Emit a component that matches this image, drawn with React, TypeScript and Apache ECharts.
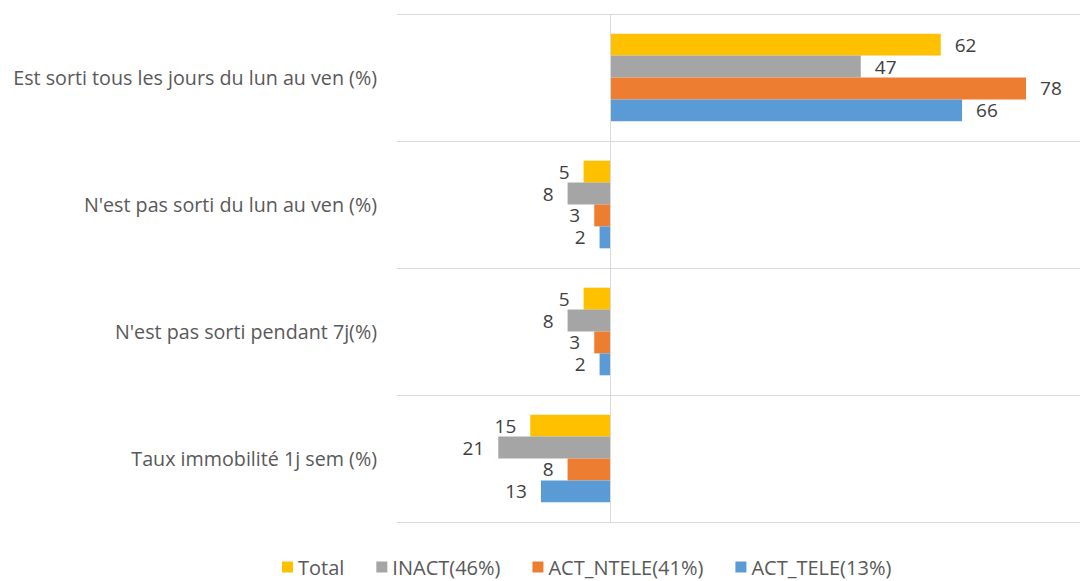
import React, { useEffect, useRef } from "react";
import * as echarts from "echarts";

const categories = [
  "Est sorti tous les jours du lun au ven (%)",
  "N'est pas sorti du lun au ven (%)",
  "N'est pas sorti pendant 7j(%)",
  "Taux immobilité 1j sem (%)",
];
const seriesNames = ["Total", "INACT(46%)", "ACT_NTELE(41%)", "ACT_TELE(13%)"];
const totalValues = [62, -5, -5, -15];
const inactValues = [47, -8, -8, -21];
const actNteleValues = [78, -3, -3, -8];
const actTeleValues = [66, -2, -2, -13];
const seriesColors = ["#FFC000", "#A5A5A5", "#ED7D31", "#5B9BD5"];
const xMin = -40;
const xMax = 90;

const FONT = "'Open Sans', sans-serif";

export default function App() {
  const ref = useRef<HTMLDivElement>(null);
  useEffect(() => {
    if (!ref.current) return;
    const chart = echarts.init(ref.current, undefined, { renderer: "svg" });
    const allValues = [totalValues, inactValues, actNteleValues, actTeleValues];
    const series: any[] = allValues.map((vals, i) => ({
      name: seriesNames[i],
      type: "bar",
      barGap: "0%",
      barCategoryGap: "31%",
      itemStyle: { color: seriesColors[i] },
      label: {
        show: true,
        distance: 14,
        fontSize: 19,
        fontFamily: FONT,
        color: "#404040",
        formatter: (p: any) => String(Math.abs(p.value)),
      },
      data: vals.map((v) => ({
        value: v,
        label: { position: v < 0 ? "left" : "right" },
      })),
    }));
    series[0].markLine = {
      silent: true,
      symbol: ["none", "none"],
      label: { show: false },
      lineStyle: { color: "#d9d9d9", type: "solid", width: 1 },
      data: [{ xAxis: 0 }],
    };
    chart.setOption({
      animation: false,
      backgroundColor: "#ffffff",
      grid: {
        left: 397,
        top: 14,
        width: 693,
        height: 508,
        containLabel: false,
        outerBoundsMode: "none",
      },
      legend: {
        data: seriesNames,
        left: 282,
        top: 556,
        padding: 0,
        icon: "rect",
        itemWidth: 11,
        itemHeight: 11,
        itemGap: 32,
        textStyle: { fontSize: 20, lineHeight: 22, fontFamily: FONT, color: "#595959" },
      },
      xAxis: {
        type: "value",
        min: xMin,
        max: xMax,
        axisLabel: { show: false },
        axisLine: { show: false },
        axisTick: { show: false },
        splitLine: { show: false },
      },
      yAxis: {
        type: "category",
        data: categories,
        inverse: true,
        axisLine: { show: false, onZero: false },
        axisTick: { show: false },
        splitLine: { show: true, lineStyle: { color: "#d9d9d9", width: 1 } },
        axisLabel: { margin: 20, fontSize: 19.7, fontFamily: FONT, color: "#595959" },
      },
      series,
    });
    return () => chart.dispose();
  }, []);
  return (
    <div
      ref={ref}
      style={{ position: "absolute", left: 0, top: 0, width: 1080, height: 581 }}
    />
  );
}
